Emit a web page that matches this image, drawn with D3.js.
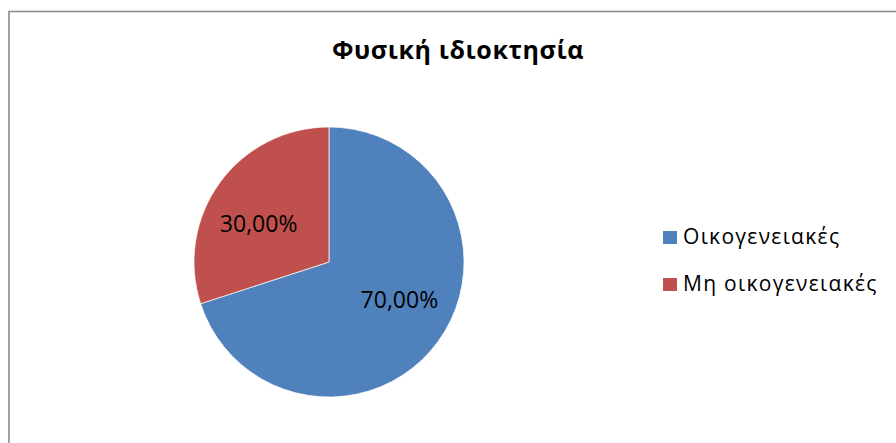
<!DOCTYPE html>
<html>
<head>
<meta charset="utf-8">
<script src="https://cdn.jsdelivr.net/npm/d3@7"></script>
<style>
  body { margin: 0; background: #fff; }
  text { font-family: "Open Sans", sans-serif; fill: #000; }
</style>
</head>
<body>
<svg width="896" height="443"></svg>
<script>
// data
var categories = ["Οικογενειακές", "Μη οικογενειακές"];
var values = [70, 30];
var labels = ["70,00%", "30,00%"];
var colors = ["#4F81BD", "#C0504D"];
var title = "Φυσική ιδιοκτησία";

var svg = d3.select("svg");

// chart frame (runs off the right and bottom of the picture)
svg.append("rect")
  .attr("x", 9).attr("y", 11.5)
  .attr("width", 900).attr("height", 450)
  .attr("fill", "#fff")
  .attr("stroke", "#8c8c8c")
  .attr("stroke-width", 1.6);

// title
svg.append("text")
  .attr("x", 458).attr("y", 59)
  .attr("text-anchor", "middle")
  .style("font-weight", "bold")
  .style("font-size", "25px")
  .style("letter-spacing", "0.6px")
  .text(title);

var cx = 329, cy = 262, radius = 135;

var pie = d3.pie().sort(null).value(function (d) { return d; });
var arcs = pie(values);

var arc = d3.arc().innerRadius(0).outerRadius(radius);
var labelArc = d3.arc().innerRadius(87).outerRadius(87);

var g = svg.append("g").attr("transform", "translate(" + cx + "," + cy + ")");

g.selectAll("path")
  .data(arcs)
  .enter().append("path")
  .attr("d", arc)
  .attr("fill", function (d, i) { return colors[i]; })
  .attr("stroke", "#fff")
  .attr("stroke-width", 0.7);

// data labels, Excel-style "best fit" sits a bit nearer the horizontal middle
g.selectAll(".lbl")
  .data(arcs)
  .enter().append("text")
  .attr("class", "lbl")
  .attr("x", function (d) { return labelArc.centroid(d)[0]; })
  .attr("y", function (d) { return labelArc.centroid(d)[1] * 0.75; })
  .attr("dy", "0.35em")
  .attr("text-anchor", "middle")
  .style("font-size", "23px")
  .text(function (d, i) { return labels[i]; });

// legend
var legend = svg.selectAll(".legend")
  .data(categories)
  .enter().append("g")
  .attr("class", "legend")
  .attr("transform", function (d, i) { return "translate(663," + (231 + i * 47) + ")"; });

legend.append("rect")
  .attr("width", 14).attr("height", 13)
  .attr("fill", function (d, i) { return colors[i]; });

legend.append("text")
  .attr("x", 20).attr("y", 13)
  .style("font-size", "21px")
  .style("letter-spacing", "1.3px")
  .text(function (d) { return d; });
</script>
</body>
</html>
